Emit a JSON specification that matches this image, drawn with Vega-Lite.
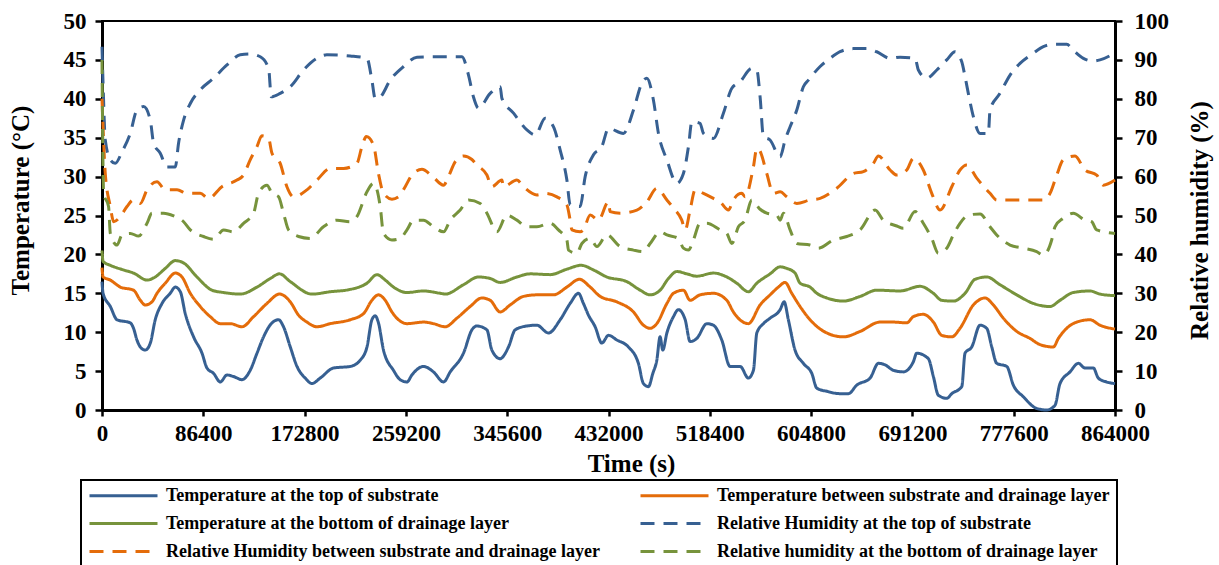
{
  "$schema": "https://vega.github.io/schema/vega-lite/v6.json",
  "width": 1013,
  "height": 389,
  "autosize": {"type": "none"},
  "padding": {"left": 102, "top": 21, "right": 104, "bottom": 155},
  "background": "white",
  "config": {
    "font": "Liberation Serif",
    "view": {"stroke": "black", "strokeWidth": 2},
    "line": {"strokeWidth": 3, "interpolate": "monotone"},
    "axis": {
      "grid": false,
      "domainColor": "black",
      "domainWidth": 3,
      "tickColor": "black",
      "tickWidth": 2.5,
      "labelFont": "Liberation Serif",
      "labelFontSize": 23,
      "labelFontWeight": "bold",
      "labelColor": "black",
      "titleFont": "Liberation Serif",
      "titleFontSize": 25,
      "titleFontWeight": "bold",
      "titleColor": "black"
    },
    "legend": {
      "orient": "none",
      "direction": "horizontal",
      "columns": 2,
      "gridAlign": "all",
      "symbolType": "stroke",
      "symbolSize": 4624,
      "symbolStrokeWidth": 3.5,
      "clipHeight": 17,
      "labelFont": "Liberation Serif",
      "labelFontSize": 18,
      "labelFontWeight": "bold",
      "labelColor": "black",
      "labelLimit": 600,
      "labelOffset": 7,
      "rowPadding": 9,
      "columnPadding": 39,
      "padding": 7,
      "strokeColor": "black",
      "strokeWidth": 2,
      "fillColor": "white"
    }
  },
  "datasets": {
    "tempTop": [{"t":0,"v":16.5},{"t":900,"v":15.0},{"t":7100,"v":13.3},{"t":12800,"v":11.6},{"t":24100,"v":11.2},{"t":26900,"v":10.5},{"t":29800,"v":9.0},{"t":32700,"v":8.1},{"t":36900,"v":7.7},{"t":41200,"v":8.6},{"t":45400,"v":11.6},{"t":51200,"v":13.7},{"t":58200,"v":15.0},{"t":62500,"v":15.8},{"t":66800,"v":15.2},{"t":71000,"v":12.4},{"t":78100,"v":9.4},{"t":85300,"v":7.3},{"t":89500,"v":5.4},{"t":95200,"v":4.7},{"t":100900,"v":3.6},{"t":106600,"v":4.5},{"t":112200,"v":4.3},{"t":119400,"v":3.9},{"t":126400,"v":5.1},{"t":132200,"v":7.3},{"t":137800,"v":9.4},{"t":145000,"v":11.2},{"t":150600,"v":11.6},{"t":154800,"v":10.7},{"t":160600,"v":8.1},{"t":166300,"v":5.6},{"t":173300,"v":4.1},{"t":179100,"v":3.4},{"t":186100,"v":4.1},{"t":197500,"v":5.4},{"t":211700,"v":5.6},{"t":220200,"v":6.4},{"t":226000,"v":8.1},{"t":230200,"v":11.6},{"t":233000,"v":12.1},{"t":235800,"v":11.2},{"t":240100,"v":7.7},{"t":248600,"v":5.1},{"t":254300,"v":3.9},{"t":260100,"v":3.6},{"t":264300,"v":4.5},{"t":274200,"v":5.6},{"t":282700,"v":4.9},{"t":291300,"v":3.6},{"t":297000,"v":4.9},{"t":308300,"v":7.3},{"t":315500,"v":10.3},{"t":319700,"v":10.8},{"t":328300,"v":10.3},{"t":332500,"v":7.7},{"t":339600,"v":6.6},{"t":346700,"v":8.1},{"t":352400,"v":10.3},{"t":362400,"v":10.8},{"t":370900,"v":10.9},{"t":380800,"v":9.9},{"t":390800,"v":11.6},{"t":399300,"v":13.7},{"t":406400,"v":15.0},{"t":410600,"v":13.7},{"t":414900,"v":12.2},{"t":420600,"v":10.7},{"t":426300,"v":8.6},{"t":432000,"v":9.6},{"t":439100,"v":9.0},{"t":449000,"v":8.1},{"t":457500,"v":6.0},{"t":461800,"v":3.4},{"t":466100,"v":3.0},{"t":469800,"v":4.7},{"t":473200,"v":6.4},{"t":476000,"v":9.4},{"t":478300,"v":7.7},{"t":481800,"v":9.9},{"t":487400,"v":12.0},{"t":491600,"v":12.9},{"t":497400,"v":11.6},{"t":501600,"v":8.8},{"t":507300,"v":9.2},{"t":515900,"v":11.1},{"t":521500,"v":10.9},{"t":528600,"v":9.0},{"t":535700,"v":5.6},{"t":544300,"v":5.6},{"t":551300,"v":4.1},{"t":555600,"v":5.1},{"t":558500,"v":9.9},{"t":564100,"v":11.1},{"t":569800,"v":11.8},{"t":578400,"v":12.9},{"t":581800,"v":13.9},{"t":585400,"v":11.6},{"t":591100,"v":7.7},{"t":598200,"v":6.0},{"t":605400,"v":4.7},{"t":609700,"v":2.8},{"t":618200,"v":2.4},{"t":629500,"v":2.1},{"t":636600,"v":2.1},{"t":643800,"v":3.2},{"t":655100,"v":4.1},{"t":662200,"v":6.0},{"t":667900,"v":5.8},{"t":675000,"v":5.1},{"t":683500,"v":4.9},{"t":692000,"v":6.2},{"t":694900,"v":7.3},{"t":704800,"v":6.6},{"t":709100,"v":4.3},{"t":713300,"v":1.9},{"t":720500,"v":1.5},{"t":724800,"v":2.1},{"t":733300,"v":3.0},{"t":736100,"v":7.3},{"t":741800,"v":8.1},{"t":748900,"v":10.9},{"t":754600,"v":10.5},{"t":758900,"v":8.1},{"t":763100,"v":6.0},{"t":771700,"v":5.6},{"t":777300,"v":3.2},{"t":785800,"v":1.7},{"t":797200,"v":0.2},{"t":805800,"v":0},{"t":812800,"v":0.6},{"t":817100,"v":3.4},{"t":825600,"v":4.9},{"t":832700,"v":6.0},{"t":838400,"v":5.4},{"t":845500,"v":5.4},{"t":849800,"v":4.1},{"t":856900,"v":3.6},{"t":864000,"v":3.4}],
    "tempMid": [{"t":0,"v":18.3},{"t":900,"v":17.1},{"t":7100,"v":16.7},{"t":15600,"v":15.8},{"t":26900,"v":15.4},{"t":32700,"v":14.1},{"t":36900,"v":13.5},{"t":42600,"v":13.9},{"t":46900,"v":15.0},{"t":54000,"v":16.3},{"t":62500,"v":17.6},{"t":68200,"v":17.1},{"t":75300,"v":15.0},{"t":83800,"v":13.3},{"t":92300,"v":12.0},{"t":100900,"v":11.1},{"t":109400,"v":11.1},{"t":119400,"v":10.7},{"t":129300,"v":12.0},{"t":140700,"v":13.7},{"t":151400,"v":14.9},{"t":160600,"v":13.9},{"t":167600,"v":12.2},{"t":174800,"v":11.3},{"t":183300,"v":10.7},{"t":194700,"v":11.1},{"t":211700,"v":11.6},{"t":223100,"v":12.4},{"t":230200,"v":14.1},{"t":235800,"v":14.8},{"t":241600,"v":14.1},{"t":247300,"v":12.6},{"t":252900,"v":11.6},{"t":260100,"v":11.1},{"t":274200,"v":11.3},{"t":282700,"v":11.1},{"t":292700,"v":10.7},{"t":302700,"v":11.8},{"t":314000,"v":13.3},{"t":324000,"v":14.4},{"t":331100,"v":14.1},{"t":339600,"v":12.6},{"t":348100,"v":13.5},{"t":359500,"v":14.6},{"t":370900,"v":14.8},{"t":385100,"v":14.8},{"t":396500,"v":15.8},{"t":407200,"v":16.8},{"t":416400,"v":15.8},{"t":424900,"v":14.6},{"t":439100,"v":13.9},{"t":453300,"v":12.6},{"t":461800,"v":10.9},{"t":467500,"v":10.5},{"t":473200,"v":11.1},{"t":481800,"v":13.7},{"t":487400,"v":15.0},{"t":495900,"v":15.4},{"t":501600,"v":14.1},{"t":510100,"v":14.8},{"t":521500,"v":15.0},{"t":532900,"v":14.1},{"t":538500,"v":12.6},{"t":551300,"v":11.1},{"t":561300,"v":13.5},{"t":569800,"v":14.8},{"t":576900,"v":15.8},{"t":582600,"v":16.4},{"t":588300,"v":15.0},{"t":595400,"v":13.3},{"t":603900,"v":11.6},{"t":618200,"v":9.9},{"t":632300,"v":9.4},{"t":646600,"v":10.1},{"t":663600,"v":11.3},{"t":675000,"v":11.3},{"t":686400,"v":11.2},{"t":692000,"v":12.0},{"t":700500,"v":12.3},{"t":709100,"v":11.3},{"t":716200,"v":9.6},{"t":724800,"v":9.4},{"t":731800,"v":10.5},{"t":743200,"v":13.5},{"t":753200,"v":14.4},{"t":760200,"v":13.5},{"t":768800,"v":11.8},{"t":780200,"v":10.1},{"t":791500,"v":9.2},{"t":800100,"v":8.4},{"t":811400,"v":8.1},{"t":815700,"v":9.2},{"t":822800,"v":10.5},{"t":831300,"v":11.3},{"t":842700,"v":11.6},{"t":851200,"v":10.9},{"t":864000,"v":10.4}],
    "tempBot": [{"t":0,"v":20.5},{"t":900,"v":19.1},{"t":7100,"v":18.6},{"t":18400,"v":18.0},{"t":26900,"v":17.6},{"t":38400,"v":16.7},{"t":45400,"v":17.1},{"t":54000,"v":18.2},{"t":62500,"v":19.2},{"t":69600,"v":18.9},{"t":81000,"v":17.1},{"t":93800,"v":15.4},{"t":103700,"v":15.1},{"t":117900,"v":14.9},{"t":132200,"v":15.8},{"t":143500,"v":16.9},{"t":151400,"v":17.5},{"t":160600,"v":16.5},{"t":179100,"v":14.9},{"t":194700,"v":15.2},{"t":211700,"v":15.5},{"t":226000,"v":16.3},{"t":234500,"v":17.4},{"t":241600,"v":16.7},{"t":248600,"v":15.8},{"t":260100,"v":15.1},{"t":274200,"v":15.3},{"t":288500,"v":15.0},{"t":292700,"v":14.9},{"t":308300,"v":16.1},{"t":321100,"v":17.1},{"t":331100,"v":16.9},{"t":339600,"v":16.4},{"t":353900,"v":17.1},{"t":365200,"v":17.5},{"t":382200,"v":17.4},{"t":396500,"v":18.1},{"t":408700,"v":18.6},{"t":419200,"v":18.0},{"t":430600,"v":17.1},{"t":447600,"v":16.5},{"t":459000,"v":15.4},{"t":467500,"v":14.8},{"t":476000,"v":15.4},{"t":483100,"v":16.9},{"t":490300,"v":17.8},{"t":498800,"v":17.5},{"t":507300,"v":17.2},{"t":521500,"v":17.6},{"t":532900,"v":17.1},{"t":541400,"v":16.3},{"t":551300,"v":15.2},{"t":558500,"v":16.3},{"t":569800,"v":17.5},{"t":578400,"v":18.4},{"t":584100,"v":18.2},{"t":591100,"v":17.6},{"t":595400,"v":16.3},{"t":603900,"v":15.8},{"t":609700,"v":15.0},{"t":618200,"v":14.4},{"t":632300,"v":14.0},{"t":646600,"v":14.6},{"t":660800,"v":15.4},{"t":680700,"v":15.3},{"t":697700,"v":15.9},{"t":709100,"v":15.0},{"t":716200,"v":14.1},{"t":726100,"v":14.0},{"t":736100,"v":15.0},{"t":744600,"v":16.8},{"t":754600,"v":17.1},{"t":765900,"v":16.1},{"t":780200,"v":14.8},{"t":794300,"v":13.7},{"t":808600,"v":13.3},{"t":817100,"v":14.1},{"t":828400,"v":15.1},{"t":842700,"v":15.3},{"t":851200,"v":14.9},{"t":864000,"v":14.7}],
    "rhTop": [{"t":0,"v":93.4},{"t":900,"v":84},{"t":2800,"v":69.4},{"t":7100,"v":64.3},{"t":11300,"v":63.4},{"t":17100,"v":66.4},{"t":24100,"v":71.1},{"t":29800,"v":77.1},{"t":35500,"v":78},{"t":41200,"v":74.5},{"t":44000,"v":68.6},{"t":49700,"v":66},{"t":55400,"v":62.5},{"t":62500,"v":62.5},{"t":65300,"v":68.6},{"t":69600,"v":74.5},{"t":75300,"v":78.8},{"t":83800,"v":82.3},{"t":95200,"v":85.3},{"t":106600,"v":88.7},{"t":117900,"v":91.3},{"t":126400,"v":91.5},{"t":135000,"v":90.8},{"t":142100,"v":87.8},{"t":144400,"v":80.5},{"t":152000,"v":81.4},{"t":160600,"v":83.1},{"t":171900,"v":87.4},{"t":183300,"v":90.4},{"t":191800,"v":91.3},{"t":211700,"v":91},{"t":226000,"v":90.4},{"t":230200,"v":84.8},{"t":233000,"v":80.1},{"t":237300,"v":80.5},{"t":245800,"v":84.8},{"t":257200,"v":88.3},{"t":268600,"v":90.7},{"t":285600,"v":90.8},{"t":307000,"v":90.8},{"t":312600,"v":86.1},{"t":316800,"v":80.5},{"t":321100,"v":77.6},{"t":331100,"v":81.4},{"t":339600,"v":83.1},{"t":341100,"v":80.1},{"t":351000,"v":76.3},{"t":362400,"v":72},{"t":369500,"v":70.7},{"t":378000,"v":75},{"t":385100,"v":72.8},{"t":390800,"v":66.8},{"t":396500,"v":59.1},{"t":399300,"v":52.7},{"t":407800,"v":52.3},{"t":412100,"v":60},{"t":419200,"v":65.6},{"t":426300,"v":67.7},{"t":432000,"v":72.4},{"t":444700,"v":71.1},{"t":453300,"v":77.1},{"t":460400,"v":84},{"t":464700,"v":85.3},{"t":470300,"v":79.7},{"t":474600,"v":71.1},{"t":481800,"v":64.3},{"t":490300,"v":58.3},{"t":495900,"v":60.8},{"t":500200,"v":67.7},{"t":503100,"v":74.1},{"t":510100,"v":73.7},{"t":513000,"v":71.1},{"t":521500,"v":69.8},{"t":530000,"v":76.3},{"t":537200,"v":82.7},{"t":544300,"v":84.4},{"t":554200,"v":87.8},{"t":558500,"v":87.4},{"t":561300,"v":80.5},{"t":564100,"v":70.3},{"t":569800,"v":69.4},{"t":578400,"v":65.1},{"t":582600,"v":69.4},{"t":586900,"v":72.8},{"t":592600,"v":77.1},{"t":598200,"v":83.1},{"t":602500,"v":84.8},{"t":612500,"v":88.3},{"t":621000,"v":90.4},{"t":629500,"v":92.1},{"t":640900,"v":92.9},{"t":652300,"v":92.9},{"t":660800,"v":92.1},{"t":672200,"v":90.4},{"t":680700,"v":90.7},{"t":693500,"v":90.4},{"t":696300,"v":87.4},{"t":703400,"v":85.3},{"t":712000,"v":87.4},{"t":720500,"v":90},{"t":727600,"v":92.1},{"t":733300,"v":89.5},{"t":736100,"v":85.7},{"t":738900,"v":81.4},{"t":743200,"v":75.4},{"t":748900,"v":71.1},{"t":756000,"v":71.1},{"t":757400,"v":77.1},{"t":765900,"v":81.4},{"t":774500,"v":86.1},{"t":783000,"v":89.1},{"t":794300,"v":91.7},{"t":802900,"v":93.4},{"t":811400,"v":94},{"t":822800,"v":94},{"t":828400,"v":92.5},{"t":837000,"v":90.4},{"t":845500,"v":89.7},{"t":851200,"v":90},{"t":864000,"v":91.8}],
    "rhMid": [{"t":0,"v":80},{"t":2800,"v":60.8},{"t":7100,"v":52.3},{"t":9900,"v":48.4},{"t":15600,"v":49.7},{"t":21300,"v":52.3},{"t":26900,"v":54},{"t":32700,"v":53.1},{"t":38400,"v":56.6},{"t":46900,"v":58.7},{"t":54000,"v":56.6},{"t":64000,"v":56.6},{"t":72500,"v":55.7},{"t":83800,"v":55.7},{"t":90900,"v":54.4},{"t":102300,"v":57.4},{"t":115100,"v":59.1},{"t":120700,"v":60.4},{"t":126400,"v":64.3},{"t":132200,"v":67.7},{"t":136400,"v":70.5},{"t":142100,"v":69.8},{"t":145000,"v":66},{"t":152000,"v":63.4},{"t":157700,"v":57.4},{"t":163400,"v":54.8},{"t":174800,"v":56.6},{"t":183300,"v":59.1},{"t":194700,"v":62.1},{"t":206000,"v":62.1},{"t":217400,"v":63.4},{"t":221700,"v":67.7},{"t":225400,"v":70.3},{"t":231600,"v":68.1},{"t":235800,"v":60.8},{"t":240100,"v":55.7},{"t":247300,"v":54.2},{"t":252900,"v":54.8},{"t":258600,"v":57.4},{"t":264300,"v":60.4},{"t":272900,"v":61.9},{"t":281400,"v":60.2},{"t":291300,"v":57.8},{"t":295500,"v":60},{"t":301200,"v":63.8},{"t":308300,"v":65.3},{"t":315500,"v":64.4},{"t":319700,"v":63},{"t":328300,"v":60.4},{"t":332500,"v":57.4},{"t":341100,"v":59.1},{"t":342400,"v":57.4},{"t":353900,"v":59.1},{"t":359500,"v":57.4},{"t":370900,"v":55.3},{"t":378000,"v":55.7},{"t":388000,"v":54.8},{"t":396500,"v":52.7},{"t":399300,"v":48.8},{"t":400800,"v":46.3},{"t":407800,"v":45.8},{"t":410600,"v":46.3},{"t":416400,"v":50.1},{"t":423400,"v":48.8},{"t":432000,"v":53.5},{"t":433400,"v":51},{"t":441900,"v":50.6},{"t":456200,"v":51.4},{"t":464700,"v":53.5},{"t":473200,"v":57},{"t":481800,"v":54},{"t":487400,"v":51.9},{"t":494500,"v":48.8},{"t":497400,"v":46.3},{"t":501600,"v":51.4},{"t":505900,"v":56.6},{"t":513000,"v":55.7},{"t":521500,"v":54.4},{"t":527200,"v":53.5},{"t":534300,"v":51.4},{"t":538500,"v":54},{"t":545700,"v":55.7},{"t":548500,"v":54.8},{"t":555600,"v":62.5},{"t":558500,"v":67.3},{"t":561300,"v":66.5},{"t":567000,"v":60.8},{"t":572600,"v":55.7},{"t":578400,"v":56.1},{"t":584100,"v":54.8},{"t":592600,"v":53.1},{"t":603900,"v":54},{"t":612500,"v":54.4},{"t":626700,"v":57},{"t":640900,"v":60.8},{"t":649400,"v":61.3},{"t":657900,"v":63.4},{"t":662200,"v":65.3},{"t":672200,"v":61.7},{"t":677900,"v":60.4},{"t":686400,"v":61.7},{"t":692000,"v":64.7},{"t":700500,"v":61.7},{"t":707700,"v":55.7},{"t":714800,"v":51.4},{"t":724800,"v":57.4},{"t":731800,"v":61.7},{"t":737600,"v":63},{"t":746100,"v":59.6},{"t":757400,"v":55.7},{"t":763100,"v":54},{"t":777300,"v":54},{"t":794300,"v":54},{"t":802900,"v":54},{"t":808600,"v":55.7},{"t":814300,"v":60.4},{"t":819900,"v":64.3},{"t":829900,"v":65.3},{"t":838400,"v":61.7},{"t":848400,"v":60.4},{"t":854000,"v":57.8},{"t":864000,"v":59.1}],
    "rhBot": [{"t":0,"v":90},{"t":1400,"v":55.7},{"t":5600,"v":52.3},{"t":7100,"v":45.4},{"t":12800,"v":42.4},{"t":17100,"v":45},{"t":24100,"v":45.4},{"t":31200,"v":44.7},{"t":38400,"v":48},{"t":42600,"v":50.6},{"t":52500,"v":50.6},{"t":61100,"v":49.9},{"t":69600,"v":48.4},{"t":75300,"v":46.3},{"t":86600,"v":44.6},{"t":95200,"v":43.9},{"t":103700,"v":46.3},{"t":112200,"v":45.8},{"t":120700,"v":48},{"t":129300,"v":50.6},{"t":133500,"v":55.7},{"t":140700,"v":57.8},{"t":145000,"v":55.7},{"t":150600,"v":54.8},{"t":154800,"v":50.6},{"t":159100,"v":46.3},{"t":167600,"v":44.6},{"t":177600,"v":44.1},{"t":188900,"v":47.1},{"t":200400,"v":48.8},{"t":211700,"v":48.4},{"t":217400,"v":49.7},{"t":226000,"v":56.1},{"t":231600,"v":58.3},{"t":237300,"v":52.3},{"t":240100,"v":45.4},{"t":247300,"v":43.7},{"t":254300,"v":44.1},{"t":260100,"v":46.3},{"t":265700,"v":48.8},{"t":274200,"v":48.8},{"t":282700,"v":47.1},{"t":291300,"v":45.8},{"t":297000,"v":48.8},{"t":305500,"v":51.4},{"t":312600,"v":54},{"t":322600,"v":53.1},{"t":328300,"v":50.6},{"t":336800,"v":45.8},{"t":345300,"v":50.1},{"t":353900,"v":48.8},{"t":362400,"v":47.1},{"t":370900,"v":47.1},{"t":382200,"v":48},{"t":389300,"v":46.3},{"t":396500,"v":43.7},{"t":397900,"v":41.1},{"t":405000,"v":40.3},{"t":409300,"v":42.8},{"t":416400,"v":44.1},{"t":422100,"v":42},{"t":430600,"v":45},{"t":441900,"v":42},{"t":453300,"v":41.1},{"t":461800,"v":40.7},{"t":467500,"v":42.8},{"t":476000,"v":45.8},{"t":481800,"v":45},{"t":491600,"v":44.1},{"t":495900,"v":41.6},{"t":500200,"v":41.1},{"t":504400,"v":43.7},{"t":510100,"v":48},{"t":515900,"v":48},{"t":527200,"v":46.3},{"t":532900,"v":45.4},{"t":537200,"v":42.8},{"t":542800,"v":47.1},{"t":548500,"v":48.8},{"t":554200,"v":54},{"t":561300,"v":51.6},{"t":567000,"v":50.6},{"t":575500,"v":50.1},{"t":578400,"v":48.8},{"t":581200,"v":50.6},{"t":586900,"v":46.3},{"t":592600,"v":42.8},{"t":603900,"v":42.4},{"t":611000,"v":41.6},{"t":623800,"v":43.7},{"t":635200,"v":44.6},{"t":646600,"v":46.3},{"t":659400,"v":51.4},{"t":666400,"v":48.8},{"t":677900,"v":47.3},{"t":683500,"v":46.7},{"t":693500,"v":51},{"t":700500,"v":48},{"t":707700,"v":44.1},{"t":713300,"v":40.3},{"t":720500,"v":41.6},{"t":726100,"v":45},{"t":731800,"v":48},{"t":738900,"v":50.1},{"t":748900,"v":50.4},{"t":757400,"v":47.1},{"t":763100,"v":45},{"t":774500,"v":42.4},{"t":785800,"v":41.6},{"t":797200,"v":40.7},{"t":802900,"v":39.8},{"t":810000,"v":43.7},{"t":812800,"v":47.1},{"t":819900,"v":49.3},{"t":828400,"v":50.6},{"t":838400,"v":48.8},{"t":844100,"v":48.4},{"t":848400,"v":46.3},{"t":864000,"v":45.4}]
  },
  "layer": [
    {
      "encoding": {
        "x": {
          "field": "t",
          "type": "quantitative",
          "scale": {"domain": [0, 864000], "nice": false, "zero": false},
          "axis": {"title": "Time (s)", "values": [0, 86400, 172800, 259200, 345600, 432000, 518400, 604800, 691200, 777600, 864000], "format": "d", "labelFlush": false, "labelOverlap": false, "labelPadding": 6, "tickSize": 6, "titlePadding": 6, "titleX": 529}
        },
        "y": {
          "field": "v",
          "type": "quantitative",
          "scale": {"domain": [0, 50], "nice": false},
          "axis": {"title": "Temperature (°C)", "orient": "left", "values": [0, 5, 10, 15, 20, 25, 30, 35, 40, 45, 50], "labelPadding": 9, "tickSize": 7, "titlePadding": 30, "titleY": 179}
        }
      },
      "layer": [
        {"data": {"name": "tempTop"}, "mark": "line", "encoding": {
          "color": {"datum": "Temperature at the top of substrate", "type": "nominal", "scale": {"domain": ["Temperature at the top of substrate", "Temperature between substrate and drainage layer", "Temperature at the bottom of drainage layer", "Relative Humidity at the top of substrate", "Relative Humidity between substrate and drainage layer", "Relative humidity at the bottom of drainage layer"], "range": ["#376092", "#E46C0A", "#77933C", "#376092", "#E46C0A", "#77933C"]}, "legend": {"title": null, "legendX": -21, "legendY": 459}},
          "strokeDash": {"datum": "Temperature at the top of substrate", "type": "nominal", "scale": {"domain": ["Temperature at the top of substrate", "Temperature between substrate and drainage layer", "Temperature at the bottom of drainage layer", "Relative Humidity at the top of substrate", "Relative Humidity between substrate and drainage layer", "Relative humidity at the bottom of drainage layer"], "range": [[1, 0], [1, 0], [1, 0], [14, 9], [14, 9], [14, 9]]}, "legend": {"title": null, "legendX": -21, "legendY": 459}}
        }},
        {"data": {"name": "tempMid"}, "mark": "line", "encoding": {
          "color": {"datum": "Temperature between substrate and drainage layer", "type": "nominal", "scale": {"domain": ["Temperature at the top of substrate", "Temperature between substrate and drainage layer", "Temperature at the bottom of drainage layer", "Relative Humidity at the top of substrate", "Relative Humidity between substrate and drainage layer", "Relative humidity at the bottom of drainage layer"], "range": ["#376092", "#E46C0A", "#77933C", "#376092", "#E46C0A", "#77933C"]}, "legend": {"title": null, "legendX": -21, "legendY": 459}},
          "strokeDash": {"datum": "Temperature between substrate and drainage layer", "type": "nominal", "scale": {"domain": ["Temperature at the top of substrate", "Temperature between substrate and drainage layer", "Temperature at the bottom of drainage layer", "Relative Humidity at the top of substrate", "Relative Humidity between substrate and drainage layer", "Relative humidity at the bottom of drainage layer"], "range": [[1, 0], [1, 0], [1, 0], [14, 9], [14, 9], [14, 9]]}, "legend": {"title": null, "legendX": -21, "legendY": 459}}
        }},
        {"data": {"name": "tempBot"}, "mark": "line", "encoding": {
          "color": {"datum": "Temperature at the bottom of drainage layer", "type": "nominal", "scale": {"domain": ["Temperature at the top of substrate", "Temperature between substrate and drainage layer", "Temperature at the bottom of drainage layer", "Relative Humidity at the top of substrate", "Relative Humidity between substrate and drainage layer", "Relative humidity at the bottom of drainage layer"], "range": ["#376092", "#E46C0A", "#77933C", "#376092", "#E46C0A", "#77933C"]}, "legend": {"title": null, "legendX": -21, "legendY": 459}},
          "strokeDash": {"datum": "Temperature at the bottom of drainage layer", "type": "nominal", "scale": {"domain": ["Temperature at the top of substrate", "Temperature between substrate and drainage layer", "Temperature at the bottom of drainage layer", "Relative Humidity at the top of substrate", "Relative Humidity between substrate and drainage layer", "Relative humidity at the bottom of drainage layer"], "range": [[1, 0], [1, 0], [1, 0], [14, 9], [14, 9], [14, 9]]}, "legend": {"title": null, "legendX": -21, "legendY": 459}}
        }}
      ]
    },
    {
      "encoding": {
        "x": {
          "field": "t",
          "type": "quantitative",
          "scale": {"domain": [0, 864000], "nice": false, "zero": false},
          "axis": {"title": "Time (s)", "values": [0, 86400, 172800, 259200, 345600, 432000, 518400, 604800, 691200, 777600, 864000], "format": "d", "labelFlush": false, "labelOverlap": false, "labelPadding": 6, "tickSize": 6, "titlePadding": 6, "titleX": 529}
        },
        "y": {
          "field": "v",
          "type": "quantitative",
          "scale": {"domain": [0, 100], "nice": false},
          "axis": {"title": "Relative humidity (%)", "orient": "right", "values": [0, 10, 20, 30, 40, 50, 60, 70, 80, 90, 100], "labelPadding": 12, "tickSize": 7, "titleAngle": 270, "titleBaseline": "top", "titlePadding": 19, "titleY": 199}
        }
      },
      "layer": [
        {"data": {"name": "rhTop"}, "mark": "line", "encoding": {
          "color": {"datum": "Relative Humidity at the top of substrate", "type": "nominal", "scale": {"domain": ["Temperature at the top of substrate", "Temperature between substrate and drainage layer", "Temperature at the bottom of drainage layer", "Relative Humidity at the top of substrate", "Relative Humidity between substrate and drainage layer", "Relative humidity at the bottom of drainage layer"], "range": ["#376092", "#E46C0A", "#77933C", "#376092", "#E46C0A", "#77933C"]}, "legend": {"title": null, "legendX": -21, "legendY": 459}},
          "strokeDash": {"datum": "Relative Humidity at the top of substrate", "type": "nominal", "scale": {"domain": ["Temperature at the top of substrate", "Temperature between substrate and drainage layer", "Temperature at the bottom of drainage layer", "Relative Humidity at the top of substrate", "Relative Humidity between substrate and drainage layer", "Relative humidity at the bottom of drainage layer"], "range": [[1, 0], [1, 0], [1, 0], [14, 9], [14, 9], [14, 9]]}, "legend": {"title": null, "legendX": -21, "legendY": 459}}
        }},
        {"data": {"name": "rhMid"}, "mark": "line", "encoding": {
          "color": {"datum": "Relative Humidity between substrate and drainage layer", "type": "nominal", "scale": {"domain": ["Temperature at the top of substrate", "Temperature between substrate and drainage layer", "Temperature at the bottom of drainage layer", "Relative Humidity at the top of substrate", "Relative Humidity between substrate and drainage layer", "Relative humidity at the bottom of drainage layer"], "range": ["#376092", "#E46C0A", "#77933C", "#376092", "#E46C0A", "#77933C"]}, "legend": {"title": null, "legendX": -21, "legendY": 459}},
          "strokeDash": {"datum": "Relative Humidity between substrate and drainage layer", "type": "nominal", "scale": {"domain": ["Temperature at the top of substrate", "Temperature between substrate and drainage layer", "Temperature at the bottom of drainage layer", "Relative Humidity at the top of substrate", "Relative Humidity between substrate and drainage layer", "Relative humidity at the bottom of drainage layer"], "range": [[1, 0], [1, 0], [1, 0], [14, 9], [14, 9], [14, 9]]}, "legend": {"title": null, "legendX": -21, "legendY": 459}}
        }},
        {"data": {"name": "rhBot"}, "mark": "line", "encoding": {
          "color": {"datum": "Relative humidity at the bottom of drainage layer", "type": "nominal", "scale": {"domain": ["Temperature at the top of substrate", "Temperature between substrate and drainage layer", "Temperature at the bottom of drainage layer", "Relative Humidity at the top of substrate", "Relative Humidity between substrate and drainage layer", "Relative humidity at the bottom of drainage layer"], "range": ["#376092", "#E46C0A", "#77933C", "#376092", "#E46C0A", "#77933C"]}, "legend": {"title": null, "legendX": -21, "legendY": 459}},
          "strokeDash": {"datum": "Relative humidity at the bottom of drainage layer", "type": "nominal", "scale": {"domain": ["Temperature at the top of substrate", "Temperature between substrate and drainage layer", "Temperature at the bottom of drainage layer", "Relative Humidity at the top of substrate", "Relative Humidity between substrate and drainage layer", "Relative humidity at the bottom of drainage layer"], "range": [[1, 0], [1, 0], [1, 0], [14, 9], [14, 9], [14, 9]]}, "legend": {"title": null, "legendX": -21, "legendY": 459}}
        }}
      ]
    }
  ],
  "resolve": {"scale": {"y": "independent"}}
}
